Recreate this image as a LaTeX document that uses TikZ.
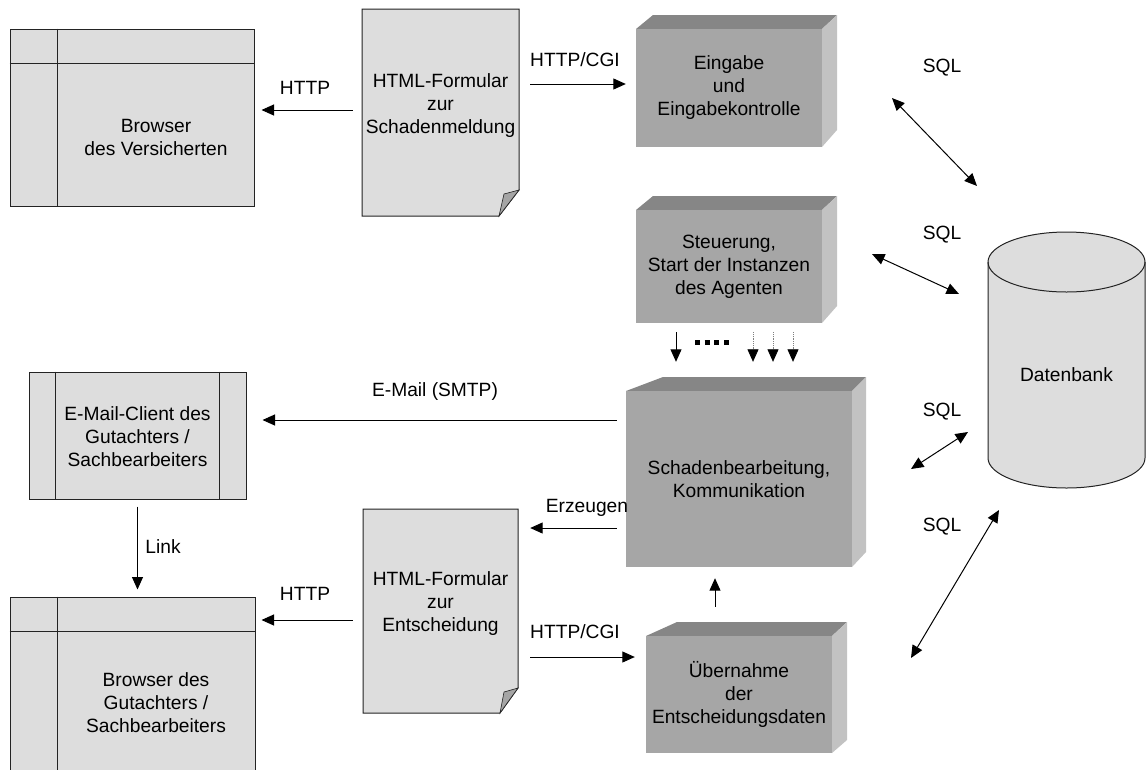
\documentclass[tikz,border=0pt]{standalone}
\usepackage{fontspec}
\setmainfont{Liberation Sans}
\usetikzlibrary{arrows.meta,calc}
\definecolor{lightfill}{RGB}{221,221,221}
\definecolor{cubefront}{RGB}{166,166,166}
\definecolor{cubetop}{RGB}{134,134,134}
\definecolor{cubeside}{RGB}{194,194,194}
\definecolor{foldfill}{RGB}{165,165,165}
\definecolor{edge}{RGB}{35,35,35}
\begin{document}
\begin{tikzpicture}[x=1pt,y=-1pt,
  every node/.style={font=\fontsize{19.2}{23}\selectfont, inner sep=0pt, align=center},
  frame/.style={draw=edge, line width=1pt, fill=lightfill, rectangle},
  cubef/.style={fill=cubefront, rectangle},
  outline/.style={draw=edge, line width=1pt},
  arr/.style={line width=1pt, -{Triangle[length=12.5pt,width=11pt]}},
  darr/.style={line width=1pt, {Triangle[length=12.5pt,width=11pt]}-{Triangle[length=12.5pt,width=11pt]}},
  dotarr/.style={line width=0.8pt, draw=gray, densely dotted, -{Triangle[length=12.5pt,width=11pt,color=black]}},
  lbl/.style={}
]
\useasboundingbox (0,0) rectangle (1146,769);
\clip (0,0) rectangle (1146,769);

% ---------- browser of insured
\node[frame, minimum width=244pt, minimum height=177pt] (b1) at (132,117.5) {};
\draw[outline] ([xshift=48pt]b1.north west) -- ([xshift=48pt]b1.south west);
\draw[outline] ([yshift=-35pt]b1.north west) -- ([yshift=-35pt]b1.north east);
\node (b1t) at (156,137) {Browser\\des Versicherten};

% ---------- e-mail client
\node[frame, minimum width=217pt, minimum height=127pt] (mail) at (137.5,435.5) {};
\draw[outline] ([xshift=27pt]mail.north west) -- ([xshift=27pt]mail.south west);
\draw[outline] ([xshift=-27pt]mail.north east) -- ([xshift=-27pt]mail.south east);
\node (mailt) at (137.5,437) {E-Mail-Client des\\Gutachters /\\Sachbearbeiters};

% ---------- browser of expert
\node[frame, minimum width=245pt, minimum height=193pt] (b2) at (132.5,693.5) {};
\draw[outline] ([xshift=48pt]b2.north west) -- ([xshift=48pt]b2.south west);
\draw[outline] ([yshift=-35pt]b2.north west) -- ([yshift=-35pt]b2.north east);
\node (b2t) at (156,703) {Browser des\\Gutachters /\\Sachbearbeiters};

% ---------- document 1
\path[outline, fill=lightfill] (362,9) -- (519,9) -- (519,190) -- (499,216) -- (362,216) -- cycle;
\path[outline, fill=foldfill, line width=0.6pt] (519,190) -- (504,194) -- (499,216) -- cycle;
\node[minimum width=157pt, minimum height=207pt] (doc1) at (440.5,112.5) {};
\node (doc1t) at (440.5,106) {HTML-Formular\\zur\\Schadenmeldung};

% ---------- document 2
\path[outline, fill=lightfill] (363,509) -- (518,509) -- (518,688) -- (500,713) -- (363,713) -- cycle;
\path[outline, fill=foldfill, line width=0.6pt] (518,688) -- (504,692) -- (500,713) -- cycle;
\node[minimum width=155pt, minimum height=204pt] (doc2) at (440.5,611) {};
\node (doc2t) at (440.5,604) {HTML-Formular\\zur\\Entscheidung};

% ---------- cube 1
\fill[cubetop] (636,29) -- (653,15) -- (837,15) -- (822,29) -- cycle;
\fill[cubeside] (822,29) -- (837,15) -- (837,130) -- (822,147) -- cycle;
\node[cubef, minimum width=186pt, minimum height=118pt] (c1) at (729,88) {Eingabe\\und\\Eingabekontrolle};

% ---------- cube 2
\fill[cubetop] (636,210) -- (653,196) -- (837,196) -- (822,210) -- cycle;
\fill[cubeside] (822,210) -- (837,196) -- (837,306) -- (822,323) -- cycle;
\node[cubef, minimum width=186pt, minimum height=113pt] (c2) at (729,266.5) {Steuerung,\\Start der Instanzen\\des Agenten};

% ---------- cube 3
\fill[cubetop] (626,391) -- (663,377) -- (866,377) -- (852,391) -- cycle;
\fill[cubeside] (852,391) -- (866,377) -- (866,552) -- (852,567) -- cycle;
\node[cubef, minimum width=226pt, minimum height=176pt] (c3) at (739,479) {Schadenbearbeitung,\\Kommunikation};

% ---------- cube 4
\fill[cubetop] (646,636) -- (677,622) -- (847,622) -- (832,636) -- cycle;
\fill[cubeside] (832,636) -- (847,622) -- (847,740) -- (832,753) -- cycle;
\node[cubef, minimum width=186pt, minimum height=117pt] (c4) at (739,694.5) {Übernahme\\der\\Entscheidungsdaten};

% ---------- database
\path[outline, fill=lightfill] (988,262) -- (988,458) arc[start angle=180, end angle=0, x radius=78.5, y radius=30]
  -- (1145,262) arc[start angle=0, end angle=-180, x radius=78.5, y radius=30] -- cycle;
\draw[outline] (988,262) arc[start angle=180, end angle=0, x radius=78.5, y radius=30];
\node (db) at (1066.5,375) {Datenbank};

% ---------- connectors
\draw[arr, shorten <=9pt, shorten >=7pt] (doc1.west |- 0,110) -- (b1.east |- 0,110);
\node[lbl] (l1) at (305,88) {HTTP};
\draw[arr, shorten <=11pt, shorten >=10pt] (doc1.east |- 0,84) -- (c1.west |- 0,84);
\node[lbl] (l2) at (575,60) {HTTP/CGI};

\coordinate (s1a) at (892,98);  \coordinate (s1b) at (977,186);
\draw[darr] (s1a) -- (s1b);
\node[lbl] (q1) at (942,68) {SQL};
\coordinate (s2a) at (872,254); \coordinate (s2b) at (959,294);
\draw[darr] (s2a) -- (s2b);
\node[lbl] (q2) at (942,235) {SQL};
\coordinate (s3a) at (911,469); \coordinate (s3b) at (968,432);
\draw[darr] (s3a) -- (s3b);
\node[lbl] (q3) at (942,412) {SQL};
\coordinate (s4a) at (911,658); \coordinate (s4b) at (999,510);
\draw[darr] (s4a) -- (s4b);
\node[lbl] (q4) at (942,527) {SQL};

% control -> instances
\draw[arr, shorten <=9pt, shorten >=29pt] (c2.south -| 676,0) -- (c3.north -| 676,0);
\draw[line width=5pt, dash pattern=on 5pt off 4.7pt] (695,342) -- (730,342);
\foreach \xx in {753,773,793}
  \draw[dotarr, shorten <=9pt, shorten >=29pt] (c2.south -| \xx,0) -- (c3.north -| \xx,0);

\draw[arr, shorten <=9pt, shorten >=16pt] (c3.west |- 0,420) -- (mail.east |- 0,420);
\node[lbl] (l3) at (435,392) {E-Mail (SMTP)};
\draw[arr, shorten <=9pt, shorten >=12pt] (c3.west |- 0,528) -- (doc2.east |- 0,528);
\node[lbl] (l4) at (587,508) {Erzeugen};

\draw[arr, shorten <=7pt, shorten >=7pt] (mail.south) -- (mail.south |- b2.north);
\node[lbl] (l5) at (163,547) {Link};

\draw[arr, shorten <=10pt, shorten >=6pt] (doc2.west |- 0,620) -- (b2.east |- 0,620);
\node[lbl] (l6) at (305,594) {HTTP};
\draw[arr, shorten <=12pt, shorten >=11pt] (doc2.east |- 0,657) -- (c4.west |- 0,657);
\node[lbl] (l7) at (575,632) {HTTP/CGI};

\draw[arr, shorten <=29pt, shorten >=11pt] (c4.north -| 715,0) -- (c3.south -| 715,0);
\end{tikzpicture}
\end{document}
